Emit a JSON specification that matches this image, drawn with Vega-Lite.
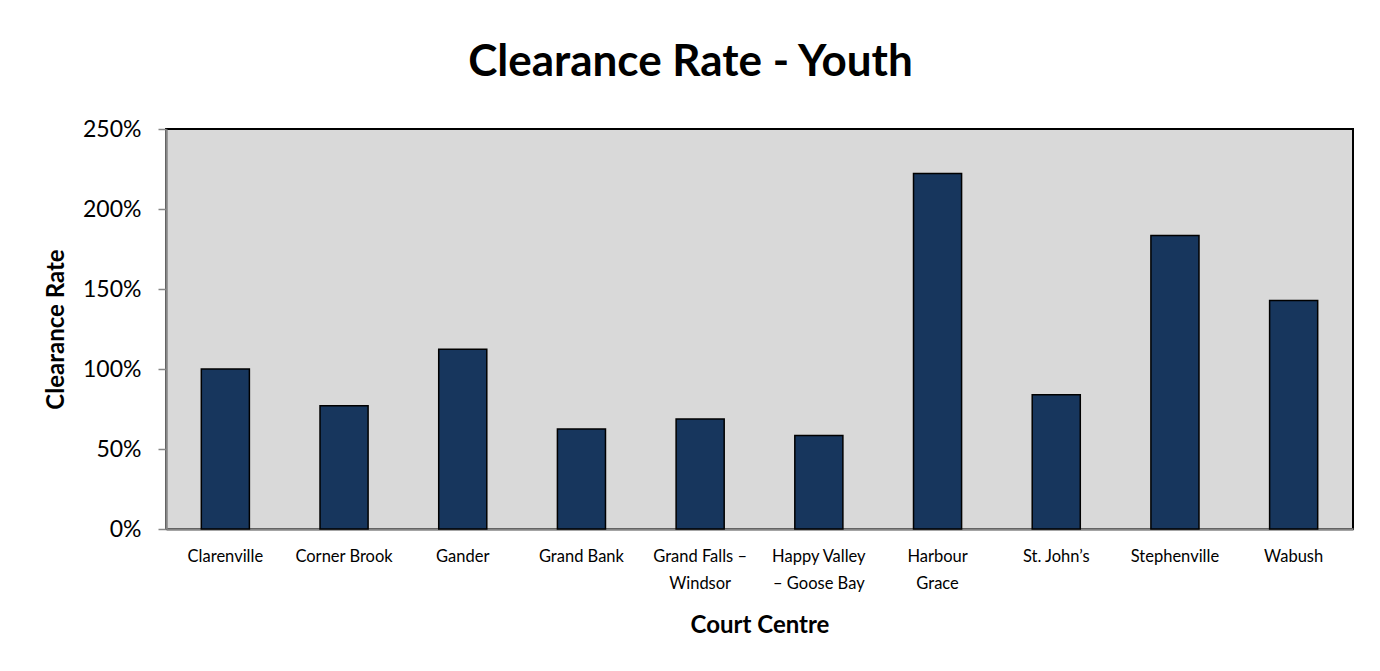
{
  "$schema": "https://vega.github.io/schema/vega-lite/v6.json",
  "autosize": {"type": "none"},
  "width": 1187,
  "height": 400,
  "padding": {"left": 166, "top": 129, "right": 27, "bottom": 142},
  "background": "white",
  "title": {
    "text": "Clearance Rate - Youth",
    "font": "Lato",
    "fontSize": 44,
    "fontWeight": "bold",
    "color": "black",
    "anchor": "middle",
    "frame": "group",
    "dx": -69,
    "offset": 33
  },
  "data": {
    "values": [
      {"court": "Clarenville", "rate": 1.0},
      {"court": "Corner Brook", "rate": 0.77},
      {"court": "Gander", "rate": 1.124},
      {"court": "Grand Bank", "rate": 0.625},
      {"court": "Grand Falls – Windsor", "rate": 0.687},
      {"court": "Happy Valley – Goose Bay", "rate": 0.585},
      {"court": "Harbour Grace", "rate": 2.222},
      {"court": "St. John’s", "rate": 0.839},
      {"court": "Stephenville", "rate": 1.834},
      {"court": "Wabush", "rate": 1.428}
    ]
  },
  "mark": {"type": "bar", "color": "#17365d", "stroke": "black", "strokeWidth": 1.5},
  "encoding": {
    "x": {
      "field": "court",
      "type": "nominal",
      "sort": null,
      "scale": {"paddingInner": 0.595, "paddingOuter": 0.2975},
      "axis": {
        "title": "Court Centre",
        "titleFont": "Lato",
        "titleFontSize": 24,
        "titleFontWeight": "bold",
        "titleColor": "black",
        "titlePadding": 22,
        "labelFont": "Lato",
        "labelFontSize": 16.5,
        "labelColor": "black",
        "labelAngle": 0,
        "labelPadding": 19,
        "labelLineHeight": 27,
        "labelExpr": "datum.label == 'Grand Falls – Windsor' ? ['Grand Falls –', 'Windsor'] : datum.label == 'Happy Valley – Goose Bay' ? ['Happy Valley', '– Goose Bay'] : datum.label == 'Harbour Grace' ? ['Harbour', 'Grace'] : datum.label",
        "ticks": false,
        "domainColor": "#868686",
        "domainWidth": 2.5,
        "grid": false
      }
    },
    "y": {
      "field": "rate",
      "type": "quantitative",
      "scale": {"domain": [0, 2.5], "nice": false},
      "axis": {
        "title": "Clearance Rate",
        "titleFont": "Lato",
        "titleFontSize": 24,
        "titleFontWeight": "bold",
        "titleColor": "black",
        "titlePadding": 14,
        "labelFont": "Lato",
        "labelFontSize": 23,
        "labelColor": "black",
        "labelPadding": 17,
        "format": ".0%",
        "values": [0, 0.5, 1, 1.5, 2, 2.5],
        "tickSize": 8,
        "tickColor": "#868686",
        "tickWidth": 1.5,
        "domainColor": "#868686",
        "domainWidth": 2.5,
        "grid": false
      }
    }
  },
  "config": {
    "view": {"fill": "#d9d9d9", "stroke": "black", "strokeWidth": 2}
  }
}
